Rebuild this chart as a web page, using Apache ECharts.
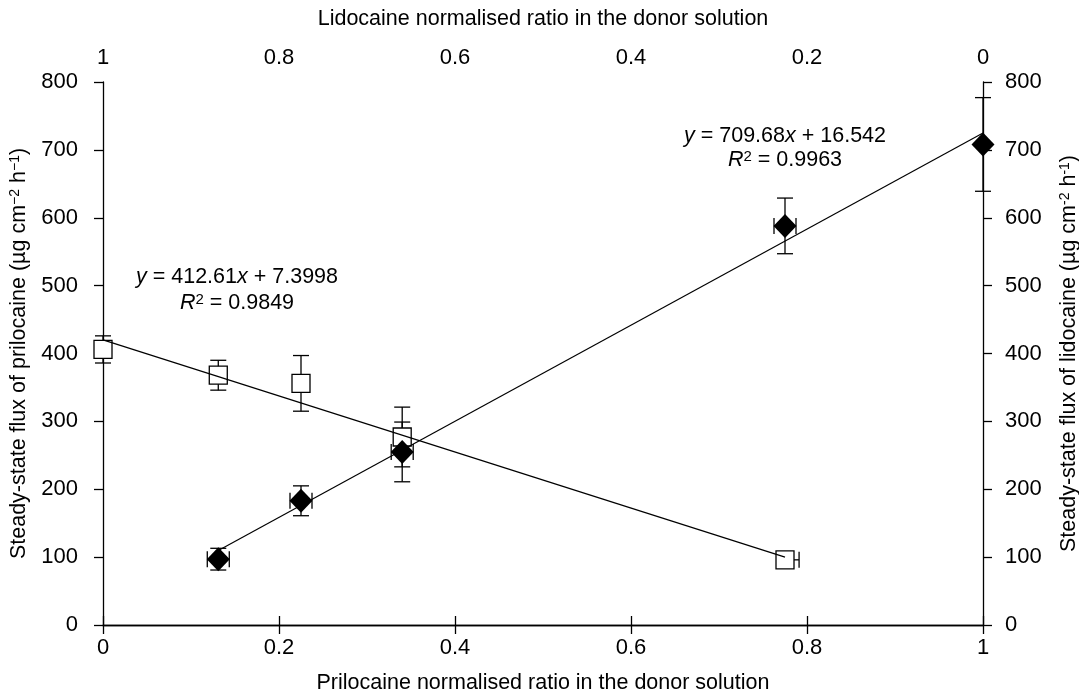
<!DOCTYPE html>
<html>
<head>
<meta charset="utf-8">
<script src="https://cdn.jsdelivr.net/npm/echarts@6/dist/echarts.min.js"></script>
<style>
  html, body { margin: 0; padding: 0; background: #fff; }
  #chart { width: 1079px; height: 697px; }
</style>
</head>
<body>
<div id="chart"></div>
<script>
// prilocaine (open squares, left axis) vs prilocaine ratio on bottom axis
var priloRatio = [0, 0.131, 0.225, 0.34, 0.775];
var priloFlux = [406, 368, 356, 277, 96];
var priloYErr = [20, 22, 41, 44, 0];
var priloXErrL = [0, 0, 0, 0, 0];
var priloXErrR = [0, 0, 0, 0, 0.016];

// lidocaine (filled diamonds, right axis)
var lidoRatio = [0.131, 0.225, 0.34, 0.775, 1];
var lidoFlux = [97, 183, 255, 588, 708];
var lidoYErr = [16, 22, 44, 41, 69];
var lidoXErrL = [0.0125, 0.0125, 0.0125, 0.0125, 0];
var lidoXErrR = [0.0125, 0.0125, 0.0125, 0.0125, 0];

// trend line end points
var priloFitX = [0, 0.775];
var priloFitY = [420, 100];
var lidoFitX = [0.13, 1];
var lidoFitY = [109, 725];

var priloEq = ['{i|y} = 412.61{i|x} + 7.3998', '{i|R}{sup|2} = 0.9849'];
var lidoEq = ['{i|y} = 709.68{i|x} + 16.542', '{i|R}{sup|2} = 0.9963'];

var FONT = 'Liberation Sans, Arial, Helvetica, sans-serif';

function zip(xs, ys, e, l, r) {
  return xs.map(function (x, i) {
    return e ? [x, ys[i], e[i], l[i], r[i]] : [x, ys[i]];
  });
}

var richName = {
  sup: { fontSize: 14, fontFamily: FONT, color: '#000', verticalAlign: 'top', lineHeight: 13 }
};
var richEq = {
  i: { fontStyle: 'italic', fontSize: 21.5, fontFamily: FONT, color: '#000' },
  sup: { fontSize: 15, fontFamily: FONT, color: '#000', verticalAlign: 'top', lineHeight: 14 }
};

// error bars with caps
function errorItem(params, api) {
  var x = api.value(0), y = api.value(1);
  var ey = api.value(2), exl = api.value(3), exr = api.value(4);
  var cap = 8;
  var style = { stroke: '#000', lineWidth: 1.3 };
  var kids = [];
  if (ey > 0) {
    var t = api.coord([x, y + ey]), b = api.coord([x, y - ey]);
    kids.push({ type: 'line', shape: { x1: t[0], y1: t[1], x2: b[0], y2: b[1] }, style: style });
    kids.push({ type: 'line', shape: { x1: t[0] - cap, y1: t[1], x2: t[0] + cap, y2: t[1] }, style: style });
    kids.push({ type: 'line', shape: { x1: b[0] - cap, y1: b[1], x2: b[0] + cap, y2: b[1] }, style: style });
  }
  var c = api.coord([x, y]);
  if (exl > 0) {
    var l = api.coord([x - exl, y]);
    kids.push({ type: 'line', shape: { x1: l[0], y1: c[1], x2: c[0], y2: c[1] }, style: style });
    kids.push({ type: 'line', shape: { x1: l[0], y1: c[1] - cap, x2: l[0], y2: c[1] + cap }, style: style });
  }
  if (exr > 0) {
    var r = api.coord([x + exr, y]);
    kids.push({ type: 'line', shape: { x1: c[0], y1: c[1], x2: r[0], y2: c[1] }, style: style });
    kids.push({ type: 'line', shape: { x1: r[0], y1: c[1] - cap, x2: r[0], y2: c[1] + cap }, style: style });
  }
  return { type: 'group', children: kids };
}

var axisLine = { show: true, lineStyle: { color: '#000', width: 1.3 } };
var axisTick = { show: true, length: 9, lineStyle: { color: '#000', width: 1.3 } };
var tickLabel = { color: '#000', fontSize: 22, fontFamily: FONT };
var nameStyle = { color: '#000', fontSize: 21.5, fontFamily: FONT, rich: richName };
var eqFont = '21.5px ' + FONT;

var chart = echarts.init(document.getElementById('chart'));
chart.setOption({
  animation: false,
  backgroundColor: '#fff',
  grid: { left: 103, right: 96, top: 82, bottom: 72, containLabel: false, outerBoundsMode: 'none' },
  xAxis: [
    {
      type: 'value', position: 'bottom', min: 0, max: 1, interval: 0.2,
      axisLine: axisLine, axisTick: axisTick, splitLine: { show: false },
      axisLabel: Object.assign({ margin: 12 }, tickLabel),
      name: 'Prilocaine normalised ratio in the donor solution',
      nameLocation: 'middle', nameGap: 47, nameTextStyle: nameStyle
    },
    {
      type: 'value', position: 'top', min: 0, max: 1, interval: 0.2, inverse: true,
      axisLine: axisLine, axisTick: axisTick, splitLine: { show: false },
      axisLabel: Object.assign({ margin: 13 }, tickLabel),
      name: 'Lidocaine normalised ratio in the donor solution',
      nameLocation: 'middle', nameGap: 52, nameTextStyle: nameStyle
    }
  ],
  yAxis: [
    {
      type: 'value', position: 'left', min: 0, max: 800, interval: 100,
      axisLine: axisLine, axisTick: axisTick, splitLine: { show: false },
      axisLabel: Object.assign({ margin: 25 }, tickLabel),
      name: 'Steady-state flux of prilocaine (µg cm{sup|−2} h{sup|−1})',
      nameLocation: 'middle', nameRotate: 90, nameGap: 67, nameTextStyle: nameStyle
    },
    {
      type: 'value', position: 'right', min: 0, max: 800, interval: 100,
      axisLine: axisLine, axisTick: axisTick, splitLine: { show: false },
      axisLabel: Object.assign({ margin: 22 }, tickLabel),
      name: 'Steady-state flux of lidocaine (µg cm{sup|-2} h{sup|-1})',
      nameLocation: 'middle', nameRotate: 90, nameGap: 75, nameTextStyle: nameStyle
    }
  ],
  series: [
    {
      type: 'custom', name: 'priloErr', xAxisIndex: 0, yAxisIndex: 0, z: 1,
      renderItem: errorItem, clip: false,
      data: zip(priloRatio, priloFlux, priloYErr, priloXErrL, priloXErrR)
    },
    {
      type: 'custom', name: 'lidoErr', xAxisIndex: 0, yAxisIndex: 1, z: 1,
      renderItem: errorItem, clip: false,
      data: zip(lidoRatio, lidoFlux, lidoYErr, lidoXErrL, lidoXErrR)
    },
    {
      type: 'scatter', name: 'Prilocaine', xAxisIndex: 0, yAxisIndex: 0, z: 3,
      symbol: 'rect', symbolSize: 18, clip: false,
      itemStyle: { color: '#fff', borderColor: '#000', borderWidth: 1.3, opacity: 1 },
      data: zip(priloRatio, priloFlux)
    },
    {
      type: 'scatter', name: 'Lidocaine', xAxisIndex: 0, yAxisIndex: 1, z: 3,
      symbol: 'diamond', symbolSize: [23, 24], clip: false,
      itemStyle: { color: '#000', opacity: 1 },
      data: zip(lidoRatio, lidoFlux)
    },
    {
      type: 'line', name: 'priloFit', xAxisIndex: 0, yAxisIndex: 0, z: 5,
      symbol: 'none', lineStyle: { color: '#000', width: 1.2 },
      data: zip(priloFitX, priloFitY)
    },
    {
      type: 'line', name: 'lidoFit', xAxisIndex: 0, yAxisIndex: 1, z: 5,
      symbol: 'none', lineStyle: { color: '#000', width: 1.2 },
      data: zip(lidoFitX, lidoFitY)
    }
  ],
  graphic: [
    { type: 'text', x: 237, y: 277, style: { text: priloEq[0], rich: richEq, font: eqFont, fill: '#000', align: 'center', verticalAlign: 'middle' } },
    { type: 'text', x: 237, y: 303, style: { text: priloEq[1], rich: richEq, font: eqFont, fill: '#000', align: 'center', verticalAlign: 'middle' } },
    { type: 'text', x: 785, y: 136, style: { text: lidoEq[0], rich: richEq, font: eqFont, fill: '#000', align: 'center', verticalAlign: 'middle' } },
    { type: 'text', x: 785, y: 160, style: { text: lidoEq[1], rich: richEq, font: eqFont, fill: '#000', align: 'center', verticalAlign: 'middle' } }
  ]
});
</script>
</body>
</html>
